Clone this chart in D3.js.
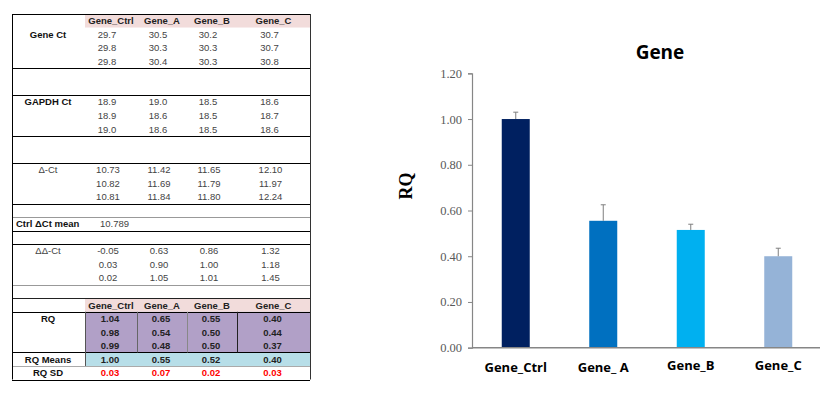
<!DOCTYPE html>
<html>
<head>
<meta charset="utf-8">
<script src="https://cdn.jsdelivr.net/npm/d3@7"></script>
<style>
  body { margin: 0; background: #fff; }
  svg { display: block; }
</style>
</head>
<body>
<div id="chart"></div>
<script>
// ---- table data ----
const genes = ['Gene_Ctrl', 'Gene_A', 'Gene_B', 'Gene_C'];
const geneCt = [['29.7', '30.5', '30.2', '30.7'], ['29.8', '30.3', '30.3', '30.7'], ['29.8', '30.4', '30.3', '30.8']];
const gapdhCt = [['18.9', '19.0', '18.5', '18.6'], ['18.9', '18.6', '18.5', '18.7'], ['19.0', '18.6', '18.5', '18.6']];
const deltaCt = [['10.73', '11.42', '11.65', '12.10'], ['10.82', '11.69', '11.79', '11.97'], ['10.81', '11.84', '11.80', '12.24']];
const ctrlMean = '10.789';
const ddCt = [['-0.05', '0.63', '0.86', '1.32'], ['0.03', '0.90', '1.00', '1.18'], ['0.02', '1.05', '1.01', '1.45']];
const rqRows = [['1.04', '0.65', '0.55', '0.40'], ['0.98', '0.54', '0.50', '0.44'], ['0.99', '0.48', '0.50', '0.37']];
const rqMeans = ['1.00', '0.55', '0.52', '0.40'];
const rqSD = ['0.03', '0.07', '0.02', '0.03'];

// ---- chart data ----
const chartTitle = 'Gene';
const chartLabels = ['Gene_Ctrl', 'Gene_ A', 'Gene_B', 'Gene_C'];
const rqValues = [1.00, 0.555, 0.515, 0.40];
const rqErrors = [0.03, 0.07, 0.025, 0.035];
const yTicks = [0, 0.2, 0.4, 0.6, 0.8, 1.0, 1.2];
const barColors = ['#002060', '#0070c0', '#00b0f0', '#95b3d7'];

const W = 831, H = 395;
const svg = d3.select('#chart').append('svg').attr('width', W).attr('height', H);

// ================= table =================
const tbl = svg.append('g').attr('font-family', '"Liberation Sans", Arial, sans-serif');
const left = 12, right = 310;
const row = d3.scaleLinear().domain([0, 27]).range([14, 379.5]);
const colEdges = [85, 137, 187, 237, 310];
const colMid = i => (colEdges[i] + colEdges[i + 1]) / 2;
const rowMid = r => (row(r) + row(r + 1)) / 2;

// fills
const fillRow = (r, color) => tbl.append('rect')
  .attr('x', colEdges[0]).attr('y', row(r))
  .attr('width', right - colEdges[0]).attr('height', row(r + 1) - row(r))
  .attr('fill', color);
fillRow(0, '#f2dcdb');
fillRow(21, '#f2dcdb');
tbl.append('rect').attr('x', colEdges[0]).attr('y', row(22))
  .attr('width', right - colEdges[0]).attr('height', row(25) - row(22))
  .attr('fill', '#b1a0c7');
fillRow(25, '#b7dee8');

// horizontal rules
const hLines = [
  [0, '#000'], [4, '#000'], [6, '#000'], [9, '#000'], [11, '#000'], [14, '#000'],
  [15, '#999'], [16, '#000'], [17, '#000'], [20, '#999'], [21, '#222'], [22, '#000'],
  [25, '#000'], [26, '#aaa'], [27, '#000']
];
tbl.selectAll('.hl').data(hLines).enter().append('line')
  .attr('x1', left).attr('x2', right)
  .attr('y1', d => Math.round(row(d[0])) + 0.5).attr('y2', d => Math.round(row(d[0])) + 0.5)
  .attr('stroke', d => d[1]).attr('stroke-width', 1);

// vertical rules
tbl.append('line').attr('x1', left + 0.5).attr('x2', left + 0.5).attr('y1', row(0)).attr('y2', row(27)).attr('stroke', '#000');
tbl.append('line').attr('x1', right + 0.5).attr('x2', right + 0.5).attr('y1', row(0)).attr('y2', row(27)).attr('stroke', '#333');
const vLines = [[0, '#555'], [1, '#666'], [2, '#888'], [3, '#222']];
tbl.selectAll('.vl').data(vLines).enter().append('line')
  .attr('x1', d => colEdges[d[0]] + 0.5).attr('x2', d => colEdges[d[0]] + 0.5)
  .attr('y1', row(22)).attr('y2', d => d[0] === 0 ? row(26) : row(25))
  .attr('stroke', d => d[1]);

const label = (r, text, opts = {}) => tbl.append('text')
  .attr('x', opts.x !== undefined ? opts.x : 48)
  .attr('y', rowMid(r) + 3.5)
  .attr('text-anchor', opts.anchor || 'middle')
  .attr('font-size', 9.5)
  .attr('font-weight', opts.bold === false ? 'normal' : 'bold')
  .attr('fill', opts.color || '#111')
  .text(text);

const headerRow = r => tbl.selectAll(null).data(genes).enter().append('text')
  .attr('x', (d, i) => colMid(i)).attr('y', rowMid(r) + 3.5)
  .attr('text-anchor', 'middle').attr('font-size', 9.5).attr('font-weight', 'bold')
  .attr('fill', '#222').text(d => d);

const valueRows = (startRow, rows, bold, color, shift) => rows.forEach((vals, k) => {
  tbl.selectAll(null).data(vals).enter().append('text')
    .attr('x', (d, i) => colMid(i) + shift).attr('y', rowMid(startRow + k) + 3.5)
    .attr('text-anchor', 'middle').attr('font-size', 9.5)
    .attr('font-weight', bold ? 'bold' : 'normal')
    .attr('fill', color).text(d => d);
});

headerRow(0);
label(1, 'Gene Ct');
valueRows(1, geneCt, false, '#444', -4);
label(6, 'GAPDH Ct');
valueRows(6, gapdhCt, false, '#444', -4);
label(11, 'Δ-Ct', { bold: false, color: '#444' });
valueRows(11, deltaCt, false, '#444', -3);
label(15, 'Ctrl ΔCt mean', { x: 16, anchor: 'start' });
label(15, ctrlMean, { x: 100, anchor: 'start', bold: false, color: '#444' });
label(17, 'ΔΔ-Ct', { bold: false, color: '#444' });
valueRows(17, ddCt, false, '#444', -3);
headerRow(21);
label(22, 'RQ');
valueRows(22, rqRows, true, '#222', -1);
label(25, 'RQ Means');
valueRows(25, [rqMeans], true, '#222', -1);
label(26, 'RQ SD');
valueRows(26, [rqSD], true, '#ff0000', -1);

// ================= bar chart =================
const plot = { x0: 472, x1: 822, y0: 347.7, y1: 73.3 };
const x = d3.scaleBand().domain(chartLabels).range([plot.x0, plot.x1])
  .paddingInner(0.68).paddingOuter(0.34);
const y = d3.scaleLinear().domain([0, 1.2]).range([plot.y0, plot.y1]);

const g = svg.append('g');

// y axis
const yAxis = g.append('g').attr('transform', `translate(${plot.x0},0)`)
  .call(d3.axisLeft(y).tickValues(yTicks).tickFormat(d3.format('.2f')).tickSize(4).tickPadding(6));
yAxis.select('.domain').attr('stroke', '#868686').attr('stroke-width', 1.2);
yAxis.selectAll('.tick line').attr('stroke', '#868686');
yAxis.selectAll('.tick text')
  .attr('font-family', '"Liberation Serif", "Times New Roman", serif')
  .attr('font-size', 12.5).attr('fill', '#595959');

// bars
g.selectAll('.bar').data(chartLabels).enter().append('rect')
  .attr('class', 'bar')
  .attr('x', d => x(d)).attr('width', x.bandwidth())
  .attr('y', (d, i) => y(rqValues[i]))
  .attr('height', (d, i) => y(0) - y(rqValues[i]))
  .attr('fill', (d, i) => barColors[i]);

// error bars (upper only)
const err = g.selectAll('.err').data(chartLabels).enter().append('g')
  .attr('stroke', '#7f7f7f').attr('stroke-width', 1);
err.append('line')
  .attr('x1', d => x(d) + x.bandwidth() / 2).attr('x2', d => x(d) + x.bandwidth() / 2)
  .attr('y1', (d, i) => y(rqValues[i])).attr('y2', (d, i) => y(rqValues[i] + rqErrors[i]));
err.append('line')
  .attr('x1', d => x(d) + x.bandwidth() / 2 - 2.5).attr('x2', d => x(d) + x.bandwidth() / 2 + 2.5)
  .attr('y1', (d, i) => y(rqValues[i] + rqErrors[i])).attr('y2', (d, i) => y(rqValues[i] + rqErrors[i]));

// x axis line
g.append('line').attr('x1', plot.x0).attr('x2', 820)
  .attr('y1', y(0)).attr('y2', y(0))
  .attr('stroke', '#868686').attr('stroke-width', 1.5);

// category labels
g.selectAll('.xl').data(chartLabels).enter().append('text')
  .attr('x', d => x(d) + x.bandwidth() / 2)
  .attr('y', (d, i) => i < 2 ? 371.5 : 370)
  .attr('text-anchor', 'middle')
  .attr('font-family', '"Open Sans", "Noto Sans", sans-serif')
  .attr('font-size', 13).attr('font-weight', 'bold').attr('fill', '#000')
  .text(d => d);

// title
g.append('text').attr('x', 660).attr('y', 59)
  .attr('text-anchor', 'middle')
  .attr('font-family', '"Open Sans", "Noto Sans", sans-serif')
  .attr('font-size', 19).attr('font-weight', 'bold').attr('fill', '#000')
  .text(chartTitle);

// y axis title
g.append('text')
  .attr('transform', 'translate(412,186) rotate(-90)')
  .attr('text-anchor', 'middle')
  .attr('font-family', '"Liberation Serif", "Times New Roman", serif')
  .attr('font-size', 18).attr('font-weight', 'bold').attr('fill', '#000')
  .text('RQ');
</script>
</body>
</html>
